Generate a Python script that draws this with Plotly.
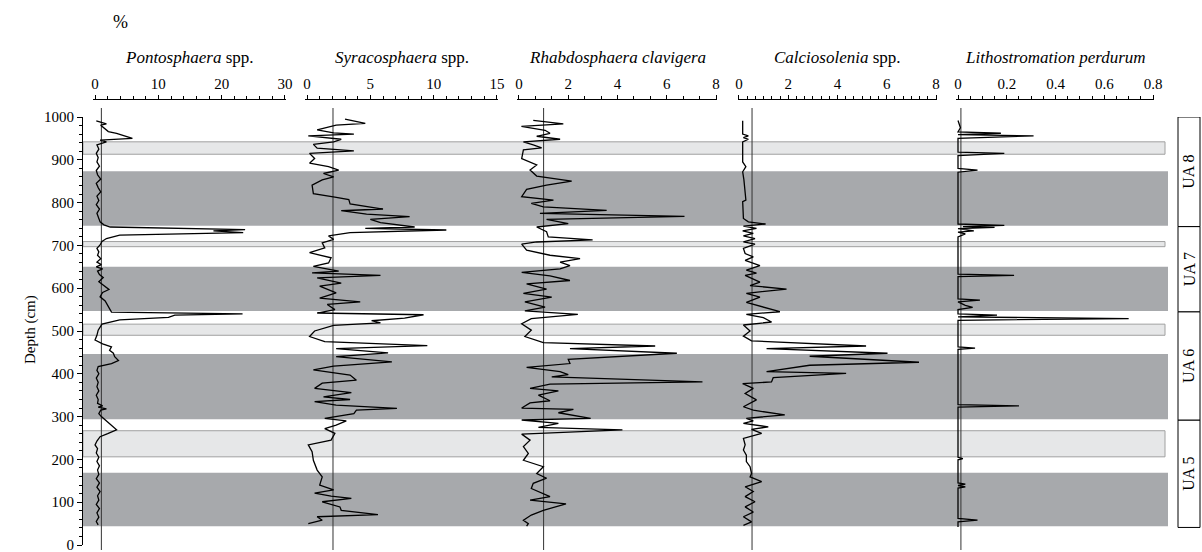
import plotly.graph_objects as go

W, H = 1202, 552
FONT = "Liberation Serif, Times New Roman, serif"


def fx(p):
    return p / W


def fy(p):
    return 1 - p / H


# ---- data: depth (cm) and relative abundance (%) for each taxon ----
pont_depth = [991, 984, 981, 972, 966, 962, 956, 950, 946, 942, 935, 925, 915, 905, 895, 885, 875, 865,
              855, 845, 835, 825, 815, 805, 795, 785, 775, 765, 755, 748, 743, 737, 734, 730, 724, 716,
              709, 701, 693, 685, 677, 669, 661, 655, 650, 645, 640, 632, 625, 615, 605, 597, 590, 580,
              570, 560, 552, 544, 540, 537, 532, 526, 516, 502, 490, 479, 470, 463, 455, 448, 440, 431,
              424, 417, 408, 400, 390, 380, 370, 360, 350, 340, 331, 325, 322, 318, 315, 307, 300, 292,
              280, 269, 260, 253, 243, 234, 225, 215, 205, 195, 185, 175, 165, 155, 145, 135, 125, 115,
              105, 95, 85, 75, 65, 55, 47]
pont_pct = [0.2, 1.8, 0.9, 1.6, 2.1, 3.4, 4.5, 5.9, 0.8, 1.8, 0.3, 0.6, 0.2, 0.5, 0.3, 0.7, 0.2, 0.4,
            0.9, 0.2, 0.5, 0.9, 0.3, 0.6, 0.2, 0.7, 0.3, 0.5, 0.8, 1.4, 2.4, 23.7, 18.7, 23.4, 3.9, 1.8,
            1.1, 0.8, 0.3, 0.6, 0.4, 0.9, 0.3, 1.0, 0.2, 1.2, 0.4, 0.7, 1.3, 0.6, 1.5, 2.2, 1.2, 0.8,
            1.6, 2.0, 2.4, 2.6, 23.3, 12.6, 11.6, 3.9, 1.1, 0.5, 0.3, 0.0, 1.2, 2.6, 2.3, 2.9, 3.1, 3.7,
            2.6, 0.5, 0.3, 0.6, 0.2, 0.5, 0.3, 0.6, 0.2, 0.5, 0.4, 1.2, 0.5, 1.8, 0.9, 0.6, 1.0, 1.6,
            2.5, 3.4, 2.0, 0.8, 0.3, 0.0, 0.4, 0.2, 0.6, 0.3, 0.7, 0.4, 0.6, 0.2, 0.7, 0.3, 0.8, 0.4,
            0.6, 0.2, 0.7, 0.3, 0.6, 0.2, 0.5]

syra_depth = [995, 985, 981, 970, 963, 960, 956, 948, 942, 936, 927, 921, 915, 903, 892, 884, 876, 868,
              860, 853, 841, 821, 813, 807, 797, 785, 781, 773, 767, 761, 753, 743, 740, 736, 730, 722,
              714, 706, 694, 683, 671, 659, 651, 640, 636, 630, 624, 612, 605, 589, 577, 568, 562, 550,
              542, 538, 530, 524, 519, 513, 500, 487, 475, 466, 459, 449, 440, 428, 418, 409, 397, 385,
              378, 366, 356, 346, 340, 335, 327, 319, 315, 307, 296, 290, 280, 272, 261, 245, 234, 218,
              198, 175, 159, 140, 129, 121, 114, 109, 101, 89, 81, 71, 66, 58, 50]
syra_pct = [3.0, 4.6, 2.3, 0.8, 2.1, 3.7, 0.1, 2.7, 2.1, 0.5, 0.8, 3.7, 0.2, 0.6, 0.2, 1.7, 2.5, 1.3,
            2.1, 1.2, 0.4, 0.5, 2.2, 3.3, 3.4, 6.0, 2.7, 4.7, 8.1, 5.0, 5.8, 8.5, 4.6, 11.0, 3.4, 1.7,
            2.1, 1.2, 1.4, 0.2, 1.9, 1.7, 0.5, 2.5, 0.4, 5.8, 0.8, 2.7, 1.0, 2.3, 1.0, 4.2, 1.6, 2.2,
            0.8, 9.2, 7.7, 5.1, 5.8, 2.1, 0.6, 0.2, 1.4, 9.5, 2.3, 6.4, 2.3, 6.7, 2.1, 0.5, 3.4, 3.9,
            1.2, 0.6, 3.5, 1.3, 3.4, 0.6, 2.3, 7.1, 3.9, 3.7, 1.4, 3.1, 2.3, 1.4, 2.2, 1.9, 0.1, 0.4,
            0.5, 0.8, 1.2, 1.0, 2.1, 0.6, 1.9, 3.5, 1.2, 2.6, 2.7, 5.6, 0.8, 1.2, 0.1]

rhab_depth = [992, 984, 978, 969, 962, 955, 948, 942, 935, 928, 923, 903, 888, 876, 862, 850, 841, 831,
              814, 806, 798, 790, 782, 775, 768, 761, 751, 743, 732, 720, 713, 708, 703, 689, 677, 669,
              661, 653, 645, 637, 629, 618, 610, 598, 588, 579, 568, 556, 547, 539, 529, 517, 502, 487,
              473, 465, 459, 448, 434, 424, 415, 405, 398, 393, 381, 376, 366, 360, 350, 337, 332, 320,
              317, 309, 296, 292, 284, 275, 269, 259, 245, 230, 214, 198, 183, 167, 156, 144, 132, 113,
              105, 96, 81, 70, 58, 50, 44]
rhab_pct = [0.58, 1.8, 0.1, 1.06, 1.26, 0.72, 1.67, 0.18, 0.58, 0.92, 0.18, 0.11, 0.72, 0.45, 0.72, 2.14,
            1.12, 0.31, 0.11, 1.4, 0.5, 0.99, 3.56, 0.85, 6.72, 1.12, 2.0, 0.72, 1.12, 1.19, 2.99, 0.72,
            0.11, 0.31, 1.26, 2.48, 1.67, 2.07, 1.67, 0.11, 1.26, 2.07, 0.31, 1.12, 0.18, 1.33, 0.24,
            1.06, 0.24, 2.39, 0.5, 0.11, 0.5, 0.24, 0.99, 5.53, 2.07, 6.41, 2.0, 2.07, 0.31, 1.67, 2.0,
            1.33, 7.45, 1.26, 0.45, 1.6, 0.79, 1.26, 0.45, 0.11, 2.21, 1.6, 2.91, 0.11, 1.6, 0.79, 4.2,
            0.11, 0.45, 0.18, 0.38, 0.18, 0.99, 0.72, 1.12, 0.58, 0.5, 1.26, 0.45, 1.91, 0.99, 0.5,
            0.18, 0.38, 0.31]

calc_depth = [991, 960, 956, 952, 948, 942, 895, 884, 872, 853, 806, 802, 763, 755, 750, 745, 740, 734,
              728, 722, 716, 708, 703, 693, 681, 673, 665, 653, 642, 635, 630, 614, 606, 598, 588, 579,
              567, 555, 545, 539, 531, 521, 514, 500, 488, 477, 465, 459, 448, 441, 427, 420, 405, 401,
              391, 381, 377, 366, 354, 339, 323, 315, 304, 296, 290, 284, 276, 270, 261, 249, 234, 222,
              210, 195, 183, 167, 159, 148, 136, 125, 113, 101, 89, 77, 66, 54, 46]
calc_pct = [0.15, 0.15, 0.38, 0.18, 0.38, 0.15, 0.15, 0.28, 0.15, 0.2, 0.28, 0.15, 0.18, 0.38, 1.08, 0.18,
            0.71, 0.15, 0.58, 0.18, 0.65, 0.18, 0.65, 0.18, 0.25, 0.58, 0.25, 0.85, 0.3, 0.71, 0.25,
            0.85, 0.45, 1.93, 0.3, 0.85, 0.3, 0.99, 1.66, 0.3, 0.99, 1.32, 0.18, 0.45, 0.18, 0.51, 5.16,
            1.12, 6.03, 2.87, 7.31, 2.87, 1.12, 4.35, 1.39, 1.32, 0.15, 0.58, 0.25, 0.71, 0.18, 0.58,
            1.86, 0.3, 0.58, 0.18, 1.19, 0.51, 0.92, 0.18, 0.25, 0.18, 0.3, 0.3, 0.45, 0.51, 0.45, 0.92,
            0.25, 0.58, 0.25, 0.65, 0.25, 0.58, 0.18, 0.51, 0.18]

lith_depth = [992, 975, 965, 962, 959, 956, 950, 918, 915, 910, 880, 876, 871, 750, 747, 744, 742, 739,
              734, 731, 727, 720, 633, 630, 627, 575, 572, 568, 560, 555, 550, 540, 537, 533, 529, 525,
              463, 460, 457, 328, 325, 322, 205, 202, 199, 145, 142, 139, 136, 133, 62, 58, 54, 42]
lith_pct = [0.0, 0.01, 0.0, 0.176, 0.0, 0.31, 0.0, 0.0, 0.19, 0.0, 0.0, 0.08, 0.0, 0.0, 0.19, 0.02, 0.15,
            0.0, 0.065, 0.0, 0.03, 0.0, 0.0, 0.23, 0.0, 0.0, 0.09, 0.0, 0.03, 0.06, 0.0, 0.0, 0.16, 0.0,
            0.70, 0.0, 0.0, 0.07, 0.0, 0.0, 0.25, 0.0, 0.0, 0.02, 0.0, 0.0, 0.03, 0.0, 0.03, 0.0, 0.0,
            0.08, 0.0, 0.0]

taxa = ["<i>Pontosphaera</i> spp.", "<i>Syracosphaera</i> spp.", "<i>Rhabdosphaera clavigera</i>",
        "<i>Calciosolenia</i> spp.", "<i>Lithostromation perdurum</i>"]
depths = [pont_depth, syra_depth, rhab_depth, calc_depth, lith_depth]
values = [pont_pct, syra_pct, rhab_pct, calc_pct, lith_pct]
mean_lines = [1.0, 2.05, 1.0, 0.53, 0.012]

x_ticks = [[0, 10, 20, 30], [0, 5, 10, 15], [0, 2, 4, 6, 8], [0, 2, 4, 6, 8], [0, 0.2, 0.4, 0.6, 0.8]]
x_tick_text = [["0", "10", "20", "30"], ["0", "5", "10", "15"], ["0", "2", "4", "6", "8"],
               ["0", "2", "4", "6", "8"], ["0", "0.2", "0.4", "0.6", "0.8"]]
x_minor = [2, 1, 2 / 3, 1 / 3, 0.05]
x_ranges = [[-0.32, 30.16], [-0.16, 15.08], [-0.08, 8.04], [-0.04, 8.04], [-0.0082, 0.804]]
x_pix = [(93, 286), (305, 498), (517, 717), (738, 937), (956, 1154)]

depth_ticks = list(range(0, 1001, 100))
depth_minor = list(range(0, 1001, 20))

# shaded intervals (depth, cm)
light_bands = [(913, 942), (697, 709), (490, 516), (206, 267)]
dark_bands = [(746, 873), (547, 650), (294, 446), (44, 169)]

# lithostratigraphic units
units = ["UA 5", "UA 6", "UA 7", "UA 8"]
unit_bottom = [41, 292, 545, 744]
unit_top = [292, 545, 744, 1000]

fig = go.Figure()
layout = dict(
    template="none",
    width=W, height=H, margin=dict(l=0, r=0, t=0, b=0, pad=0), autosize=False,
    paper_bgcolor="white", plot_bgcolor="rgba(0,0,0,0)",
    showlegend=False,
    font=dict(family=FONT, size=15, color="black"),
)

y_dom = [fy(545), fy(117)]
layout["yaxis"] = dict(
    domain=y_dom, range=[0, 1000], anchor="free", position=fx(82), automargin=False,
    showline=True, linecolor="black", linewidth=1,
    tickmode="array", tickvals=depth_ticks, ticks="outside", ticklen=5, tickcolor="black",
    minor=dict(tickmode="array", tickvals=depth_minor, ticks="outside", ticklen=3, tickcolor="black"),
    showgrid=False, zeroline=False, tickfont=dict(family=FONT, size=15),
    ticklabeloverflow="allow",
)

shapes = []
annotations = []

for i in range(5):
    key = "xaxis" if i == 0 else f"xaxis{i + 1}"
    ref = "x" if i == 0 else f"x{i + 1}"
    layout[key] = dict(
        domain=[fx(x_pix[i][0]), fx(x_pix[i][1])], range=x_ranges[i],
        anchor="free", position=fy(99), side="top", automargin=False,
        showline=True, linecolor="black", linewidth=1,
        tickmode="array", tickvals=x_ticks[i], ticktext=x_tick_text[i],
        ticks="outside", ticklen=4, tickcolor="black",
        minor=dict(tick0=0, dtick=x_minor[i], ticks="outside", ticklen=3, tickcolor="black"),
        showgrid=False, zeroline=False, tickfont=dict(family=FONT, size=15),
        ticklabeloverflow="allow",
    )
    fig.add_trace(go.Scatter(
        x=values[i], y=depths[i], xaxis=ref, yaxis="y", mode="lines",
        line=dict(color="black", width=1.3), hoverinfo="skip",
    ))
    annotations.append(dict(
        text=taxa[i], xref="paper", yref="paper",
        x=fx((x_pix[i][0] + x_pix[i][1]) / 2), y=fy(57),
        xanchor="center", yanchor="middle", showarrow=False,
        font=dict(family=FONT, size=17),
    ))

for lo, hi in dark_bands:
    shapes.append(dict(type="rect", xref="paper", yref="y", x0=fx(83), x1=fx(1168), y0=lo, y1=hi,
                       fillcolor="#a7a9ac", line=dict(width=0), layer="below"))
for lo, hi in light_bands:
    shapes.append(dict(type="rect", xref="paper", yref="y", x0=fx(83), x1=fx(1165), y0=lo, y1=hi,
                       fillcolor="#e6e7e8", line=dict(color="#a0a0a0", width=1), layer="below"))

for i in range(5):
    ref = "x" if i == 0 else f"x{i + 1}"
    shapes.append(dict(type="line", xref=ref, yref="paper", x0=mean_lines[i], x1=mean_lines[i],
                       y0=fy(550), y1=fy(108), line=dict(color="#333333", width=1), layer="below"))

for name, lo, hi in zip(units, unit_bottom, unit_top):
    shapes.append(dict(type="rect", xref="paper", yref="y", x0=fx(1178), x1=fx(1200), y0=lo, y1=hi,
                       fillcolor="white", line=dict(color="black", width=1)))
    annotations.append(dict(text=name, xref="paper", yref="y", x=fx(1189), y=(lo + hi) / 2,
                            textangle=-90, showarrow=False, xanchor="center", yanchor="middle",
                            font=dict(family=FONT, size=16)))

annotations.append(dict(text="%", xref="paper", yref="paper", x=fx(121), y=fy(22), showarrow=False,
                        xanchor="center", yanchor="middle", font=dict(family=FONT, size=18)))
annotations.append(dict(text="Depth (cm)", xref="paper", yref="paper", x=fx(30), y=fy(330),
                        textangle=-90, showarrow=False, xanchor="center", yanchor="middle",
                        font=dict(family=FONT, size=15)))

layout["shapes"] = shapes
layout["annotations"] = annotations
fig.update_layout(**layout)

fig.write_html("out.html", config={"displayModeBar": False})
